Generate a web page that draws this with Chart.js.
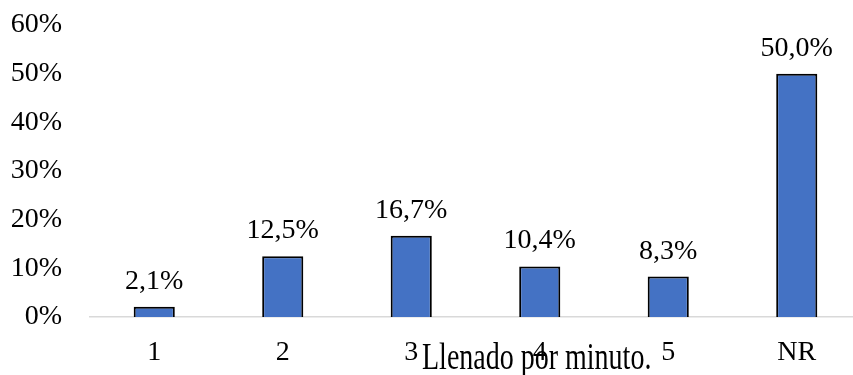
<!DOCTYPE html>
<html>
<head>
<meta charset="utf-8">
<script src="https://cdn.jsdelivr.net/npm/chart.js@4/dist/chart.umd.min.js"></script>
<style>
  html, body { margin: 0; padding: 0; background: #fff; overflow: hidden; }
  #wrap { width: 870px; height: 375px; position: relative; }
</style>
</head>
<body>
<div id="wrap"><canvas id="chart"></canvas></div>
<script>
// Share of responses per fill count (percent)
const categories = ['1', '2', '3', '4', '5', 'NR'];
const shares = [2.1, 12.5, 16.7, 10.4, 8.3, 50.0];
const yTicks = [0, 10, 20, 30, 40, 50, 60];
const axisTitle = 'Llenado por minuto.';

const FONT = '"Liberation Serif", "Times New Roman", serif';

// Writes each bar's value (comma decimal) just above the bar
const valueLabels = {
  id: 'valueLabels',
  afterDatasetsDraw(chart) {
    const ctx = chart.ctx;
    const meta = chart.getDatasetMeta(0);
    ctx.save();
    ctx.font = '28px ' + FONT;
    ctx.fillStyle = '#000';
    ctx.textAlign = 'center';
    ctx.textBaseline = 'alphabetic';
    meta.data.forEach((bar, i) => {
      const txt = shares[i].toFixed(1).replace('.', ',') + '%';
      ctx.fillText(txt, bar.x, bar.y - 18);
    });
    ctx.restore();
  }
};

// Category axis caption, set low beside the tick labels
const captionPlugin = {
  id: 'caption',
  afterDraw(chart) {
    const ctx = chart.ctx;
    const area = chart.chartArea;
    ctx.save();
    ctx.font = '28px ' + FONT;
    ctx.fillStyle = '#000';
    ctx.textAlign = 'left';
    ctx.textBaseline = 'alphabetic';
    ctx.translate(area.left + 332, area.bottom + 52);
    ctx.scale(1, 1.38);
    ctx.fillText(axisTitle, 0, 0);
    ctx.restore();
  }
};

new Chart(document.getElementById('chart'), {
  type: 'bar',
  data: {
    labels: categories,
    datasets: [{
      data: shares,
      backgroundColor: '#4472C4',
      borderColor: '#000000',
      borderWidth: 2,
      categoryPercentage: 1.0,
      barPercentage: 0.32
    }]
  },
  options: {
    responsive: true,
    maintainAspectRatio: false,
    animation: false,
    layout: { padding: { left: 0, right: 9, top: 25, bottom: 0 } },
    plugins: {
      legend: { display: false },
      tooltip: { enabled: false }
    },
    scales: {
      x: {
        grid: { display: false, drawTicks: false },
        border: { display: true, color: '#d9d9d9', width: 1.5 },
        ticks: {
          color: '#000',
          font: { family: FONT, size: 28 },
          padding: 19,
          maxRotation: 0
        },
        afterFit(scale) {
          scale.height = 58;
          scale.paddingLeft = 0;
          scale.paddingRight = 0;
        }
      },
      y: {
        min: 0,
        max: 60,
        afterBuildTicks(scale) {
          scale.ticks = yTicks.map(v => ({ value: v }));
        },
        grid: { display: false, drawTicks: false },
        border: { display: false },
        ticks: {
          color: '#000',
          font: { family: FONT, size: 28 },
          padding: 28,
          callback: v => v + '%'
        },
        afterFit(scale) {
          scale.width = 90;
          scale.paddingTop = 17;
          scale.paddingBottom = 17;
        }
      }
    }
  },
  plugins: [valueLabels, captionPlugin]
});
</script>
</body>
</html>
